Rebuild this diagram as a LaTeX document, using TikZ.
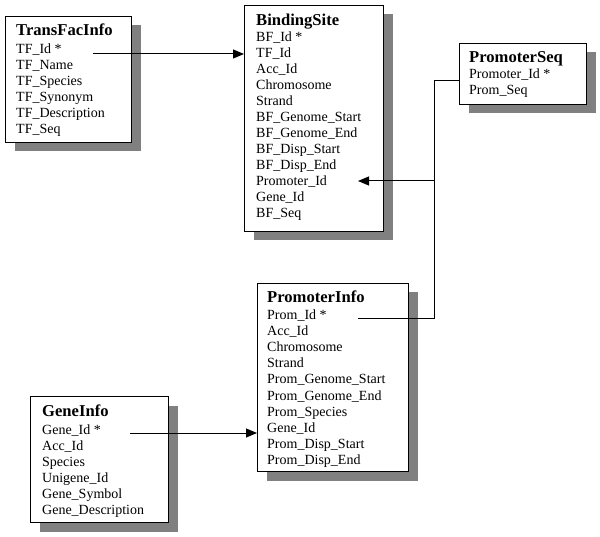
\documentclass[tikz,border=0pt]{standalone}
\usepackage{fontspec}
\setmainfont{Liberation Serif}
\usetikzlibrary{arrows.meta,shadows}
\begin{document}
\begin{tikzpicture}[x=1pt,y=-1pt,
  tbl/.style={draw=black, line width=1pt, fill=white, anchor=north west, inner sep=0pt,
    drop shadow={shadow xshift=9pt, shadow yshift=-9pt, fill=black!50, opacity=1}},
  ttl/.style={anchor=base west, inner sep=0pt, font=\fontsize{16.6}{18}\selectfont\bfseries},
  row/.style={anchor=base west, inner sep=0pt, font=\fontsize{14}{16}\selectfont},
  conn/.style={line width=1pt, black},
  arr/.style={conn, -{Triangle[length=11pt,width=9pt]}}]
\useasboundingbox (0,0) rectangle (600,537);

% boxes
\node[tbl, minimum width=126pt, minimum height=126pt] (transfac) at (5,16) {};
\node[tbl, minimum width=139pt, minimum height=226pt] (bindsite) at (244,5) {};
\node[tbl, minimum width=127pt, minimum height=61pt] (promseq) at (459,43) {};
\node[tbl, minimum width=151pt, minimum height=188pt] (prominfo) at (257,283) {};
\node[tbl, minimum width=138pt, minimum height=126pt] (geneinfo) at (30,396) {};

% TransFacInfo
\node[ttl] (tf-t) at (16,36) {TransFacInfo};
\foreach \t [count=\i from 0] in {TF\_Id *, TF\_Name, TF\_Species, TF\_Synonym, TF\_Description, TF\_Seq}
  \node[row] (tf-\i) at (16,54+16*\i) {\t};

% BindingSite
\node[ttl] (bs-t) at (256,26) {BindingSite};
\foreach \t [count=\i from 0] in {BF\_Id *, TF\_Id, Acc\_Id, Chromosome, Strand, BF\_Genome\_Start, BF\_Genome\_End, BF\_Disp\_Start, BF\_Disp\_End, Promoter\_Id, Gene\_Id, BF\_Seq}
  \node[row] (bs-\i) at (256,42+16*\i) {\t};

% PromoterSeq
\node[ttl] (ps-t) at (469,63) {PromoterSeq};
\foreach \t [count=\i from 0] in {Promoter\_Id *, Prom\_Seq}
  \node[row] (ps-\i) at (469,79+16*\i) {\t};

% PromoterInfo
\node[ttl] (pi-t) at (267,303) {PromoterInfo};
\foreach \t [count=\i from 0] in {Prom\_Id *, Acc\_Id, Chromosome, Strand, Prom\_Genome\_Start, Prom\_Genome\_End, Prom\_Species, Gene\_Id, Prom\_Disp\_Start, Prom\_Disp\_End}
  \node[row] (pi-\i) at (267,320+16*\i) {\t};

% GeneInfo
\node[ttl] (gi-t) at (42,416) {GeneInfo};
\foreach \t [count=\i from 0] in {Gene\_Id *, Acc\_Id, Species, Unigene\_Id, Gene\_Symbol, Gene\_Description}
  \node[row] (gi-\i) at (42,434+16*\i) {\t};

% connector coordinates
\coordinate (tf-a) at (93,54);
\coordinate (gi-a) at (130,433);
\coordinate (j1) at (434,81);
\coordinate (j2) at (434,181);
\coordinate (j3) at (434,319);
\coordinate (pi-end) at (358,319);
\coordinate (bs-end) at (358,181);

% connectors
\draw[arr] (tf-a) -- (bindsite.west |- tf-a);
\draw[arr] (gi-a) -- (prominfo.west |- gi-a);
\draw[conn] (promseq.west |- j1) -- (j1) -- (j3) -- (pi-end);
\draw[arr] (j2) -- (bs-end);
\end{tikzpicture}
\end{document}
